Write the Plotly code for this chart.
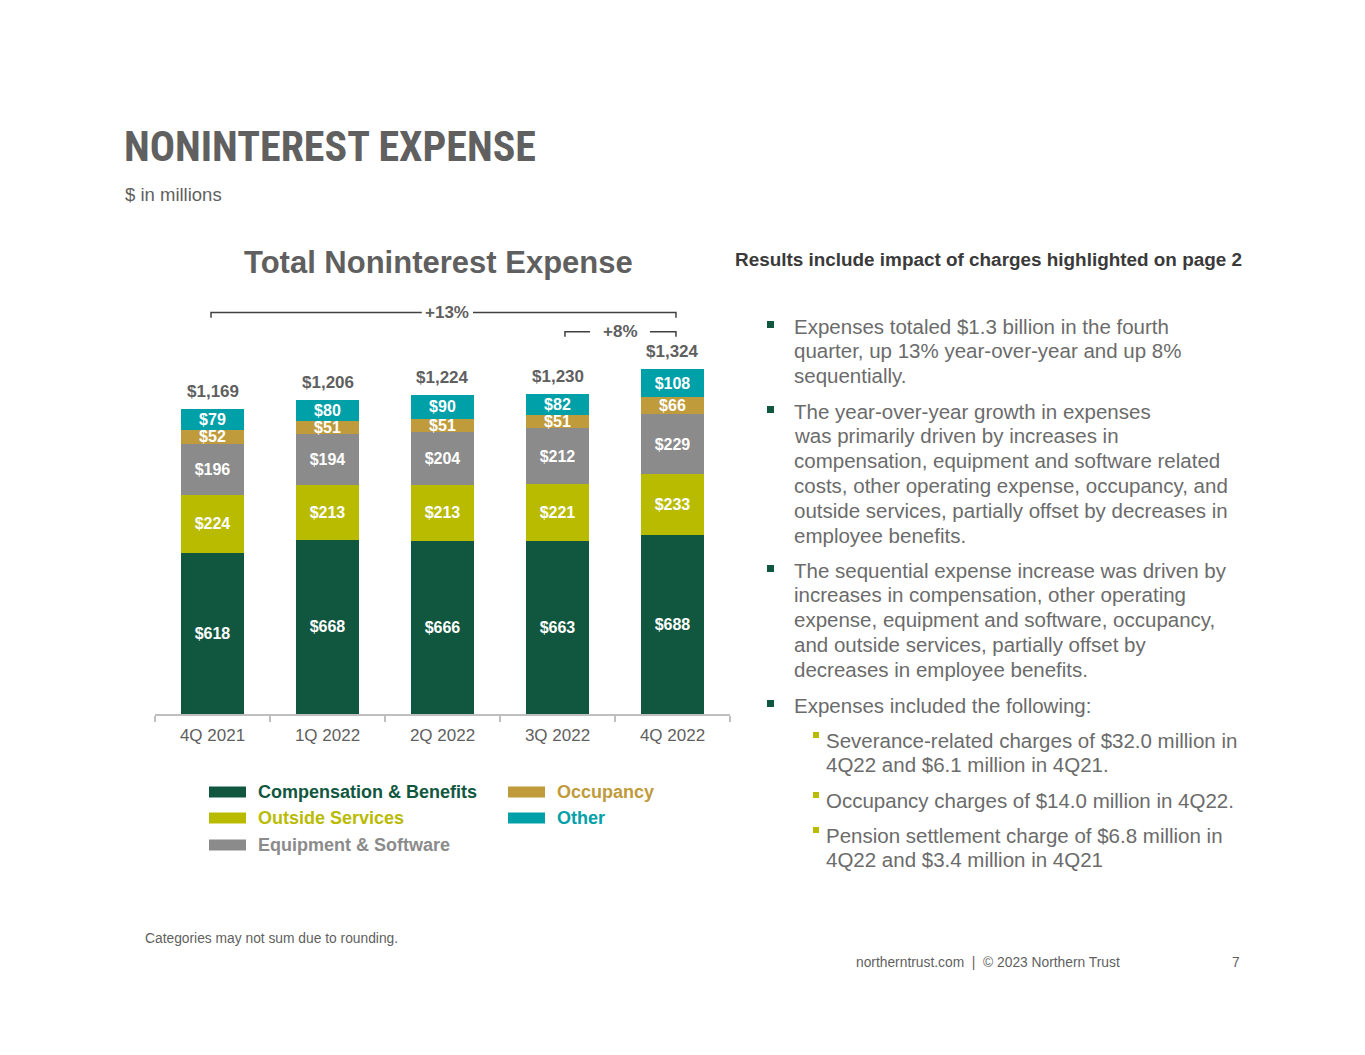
import plotly.graph_objects as go

# ---------------- data ----------------
quarters = ["4Q 2021", "1Q 2022", "2Q 2022", "3Q 2022", "4Q 2022"]
comp_benefits = [618, 668, 666, 663, 688]
outside_services = [224, 213, 213, 221, 233]
equip_software = [196, 194, 204, 212, 229]
occupancy = [52, 51, 51, 51, 66]
other = [79, 80, 90, 82, 108]
totals = [1169, 1206, 1224, 1230, 1324]

series_names = ["Compensation & Benefits", "Outside Services", "Equipment & Software",
                "Occupancy", "Other"]
series_values = [comp_benefits, outside_services, equip_software, occupancy, other]
series_colors = ["#115740", "#B9BB00", "#8B8B8B", "#C09B3C", "#00A0A8"]

# ---------------- helpers ----------------
W, H = 1365, 1055
OFF = 8  # page margin offset
FONT = "Liberation Sans, Arial, sans-serif"
GRAY = "#5f5f5f"
TEXT_GRAY = "#6b6b6b"


def px(x):
    return (x - OFF) / W


def py(y):
    return 1 - (y - OFF) / H


fig = go.Figure()

for name, vals, col in zip(series_names, series_values, series_colors):
    fig.add_trace(go.Bar(
        x=quarters, y=vals, name=name,
        marker=dict(color=col, line=dict(width=0)),
        text=[f"${v}" for v in vals],
        textposition="inside", insidetextanchor="middle",
        textangle=0, constraintext="none",
        textfont=dict(family=FONT, size=16, color="white", weight="bold"),
        hoverinfo="skip", showlegend=False,
    ))

annotations = []
shapes = []

# totals above bars
for q, t in zip(quarters, totals):
    annotations.append(dict(
        x=q, y=t, xref="x", yref="y", text=f"<b>${t:,}</b>", showarrow=False,
        yanchor="bottom", yshift=6,
        font=dict(family=FONT, size=17, color=GRAY)))

# growth brackets (category index space)
def bracket(x0, x1, gap0, gap1, yline, ydrop, label):
    line = dict(color="#404040", width=1.5)
    shapes.append(dict(type="path", xref="x", yref="y",
                       path=f"M {x0},{ydrop} L {x0},{yline} L {gap0},{yline}", line=line))
    shapes.append(dict(type="path", xref="x", yref="y",
                       path=f"M {gap1},{yline} L {x1},{yline} L {x1},{ydrop}", line=line))
    annotations.append(dict(x=(gap0 + gap1) / 2, y=yline, xref="x", yref="y",
                            text=f"<b>{label}</b>", showarrow=False, yanchor="middle",
                            font=dict(family=FONT, size=17, color=GRAY)))

bracket(-0.013, 4.03, 1.82, 2.265, 1541, 1521, "+13%")
bracket(3.065, 4.03, 3.283, 3.804, 1467, 1448, "+8%")

# titles
annotations.append(dict(x=px(122), y=py(146), xref="paper", yref="paper", xanchor="left",
                        yanchor="middle", showarrow=False, text="<b>NONINTEREST EXPENSE</b>",
                        font=dict(family="Roboto Condensed, Liberation Sans Narrow, Liberation Sans, Arial",
                                  size=42, color="#606060")))
annotations.append(dict(x=px(123), y=py(194), xref="paper", yref="paper", xanchor="left",
                        yanchor="middle", showarrow=False, text="$ in millions",
                        font=dict(family=FONT, size=18.5, color=GRAY)))
annotations.append(dict(x=px(438.5), y=py(262), xref="paper", yref="paper", xanchor="center",
                        yanchor="middle", showarrow=False, text="<b>Total Noninterest Expense</b>",
                        font=dict(family=FONT, size=31, color=GRAY)))
annotations.append(dict(x=px(733), y=py(259), xref="paper", yref="paper", xanchor="left",
                        yanchor="middle", showarrow=False,
                        text="<b>Results include impact of charges highlighted on page 2</b>",
                        font=dict(family=FONT, size=18.9, color="#3a3a3a")))

# legend (manual, column-major)
legend_pos = [(209, 792), (209, 818), (209, 845), (508, 792), (508, 818)]
for (lx, ly), name, col in zip(legend_pos, series_names, series_colors):
    shapes.append(dict(type="rect", xref="paper", yref="paper",
                       x0=px(lx), x1=px(lx + 37), y0=py(ly - 5.5), y1=py(ly + 5.5),
                       fillcolor=col, line=dict(width=0)))
    annotations.append(dict(x=px(lx + 47), y=py(ly), xref="paper", yref="paper", xanchor="left",
                            yanchor="middle", showarrow=False, text=f"<b>{name}</b>",
                            font=dict(family=FONT, size=18, color=col)))

# bullets
bullets = [
    (0, 326, ["Expenses totaled $1.3 billion in the fourth",
              "quarter, up 13% year-over-year and up 8%",
              "sequentially."]),
    (0, 411, ["The year-over-year growth in expenses",
              "was primarily driven by increases in",
              "compensation, equipment and software related",
              "costs, other operating expense, occupancy, and",
              "outside services, partially offset by decreases in",
              "employee benefits."]),
    (0, 570, ["The sequential expense increase was driven by",
              "increases in compensation, other operating",
              "expense, equipment and software, occupancy,",
              "and outside services, partially offset by",
              "decreases in employee benefits."]),
    (0, 705, ["Expenses included the following:"]),
    (1, 740, ["Severance-related charges of $32.0 million in",
              "4Q22 and $6.1 million in 4Q21."]),
    (1, 800, ["Occupancy charges of $14.0 million in 4Q22."]),
    (1, 835, ["Pension settlement charge of $6.8 million in",
              "4Q22 and $3.4 million in 4Q21"]),
]
for level, y0, lines in bullets:
    if level == 0:
        tx = 792
        shapes.append(dict(type="rect", xref="paper", yref="paper",
                           x0=px(767), x1=px(774), y0=py(y0 - 5), y1=py(y0 + 2),
                           fillcolor="#115740", line=dict(width=0)))
    else:
        tx = 824
        shapes.append(dict(type="rect", xref="paper", yref="paper",
                           x0=px(813), x1=px(819), y0=py(y0 - 8), y1=py(y0 - 2),
                           fillcolor="#B9BB00", line=dict(width=0)))
    for i, ln in enumerate(lines):
        annotations.append(dict(x=px(tx), y=py(y0 + i * 24.9), xref="paper", yref="paper",
                                xanchor="left", yanchor="middle", showarrow=False, text=ln,
                                font=dict(family=FONT, size=20.5, color=TEXT_GRAY)))

# footer
annotations.append(dict(x=px(143), y=py(938), xref="paper", yref="paper", xanchor="left",
                        yanchor="middle", showarrow=False,
                        text="Categories may not sum due to rounding.",
                        font=dict(family=FONT, size=13.8, color=GRAY)))
annotations.append(dict(x=px(854), y=py(962), xref="paper", yref="paper", xanchor="left",
                        yanchor="middle", showarrow=False,
                        text="northerntrust.com  |  © 2023 Northern Trust",
                        font=dict(family=FONT, size=13.8, color=GRAY)))
annotations.append(dict(x=px(1242), y=py(962), xref="paper", yref="paper", xanchor="right",
                        yanchor="middle", showarrow=False, text="7",
                        font=dict(family=FONT, size=13.8, color=GRAY)))

fig.update_layout(
    width=W, height=H, margin=dict(l=0, r=0, t=0, b=0),
    paper_bgcolor="white", plot_bgcolor="white",
    barmode="stack", bargap=0.46,
    showlegend=False,
    xaxis=dict(domain=[px(155), px(730)], type="category", range=[-0.5, 4.5],
               showline=True, linecolor="#BFBFBF", linewidth=1.5,
               ticks="outside", tickson="boundaries", ticklen=6, tickcolor="#BFBFBF",
               tickwidth=1.5, showgrid=False, zeroline=False, ticklabelstandoff=5,
               tickfont=dict(family=FONT, size=17, color=GRAY)),
    yaxis=dict(domain=[py(714), py(714 - 1600 * 0.2605)], range=[0, 1600], visible=False,
               showgrid=False, zeroline=False),
    annotations=annotations, shapes=shapes,
)

fig.write_html("out.html")
